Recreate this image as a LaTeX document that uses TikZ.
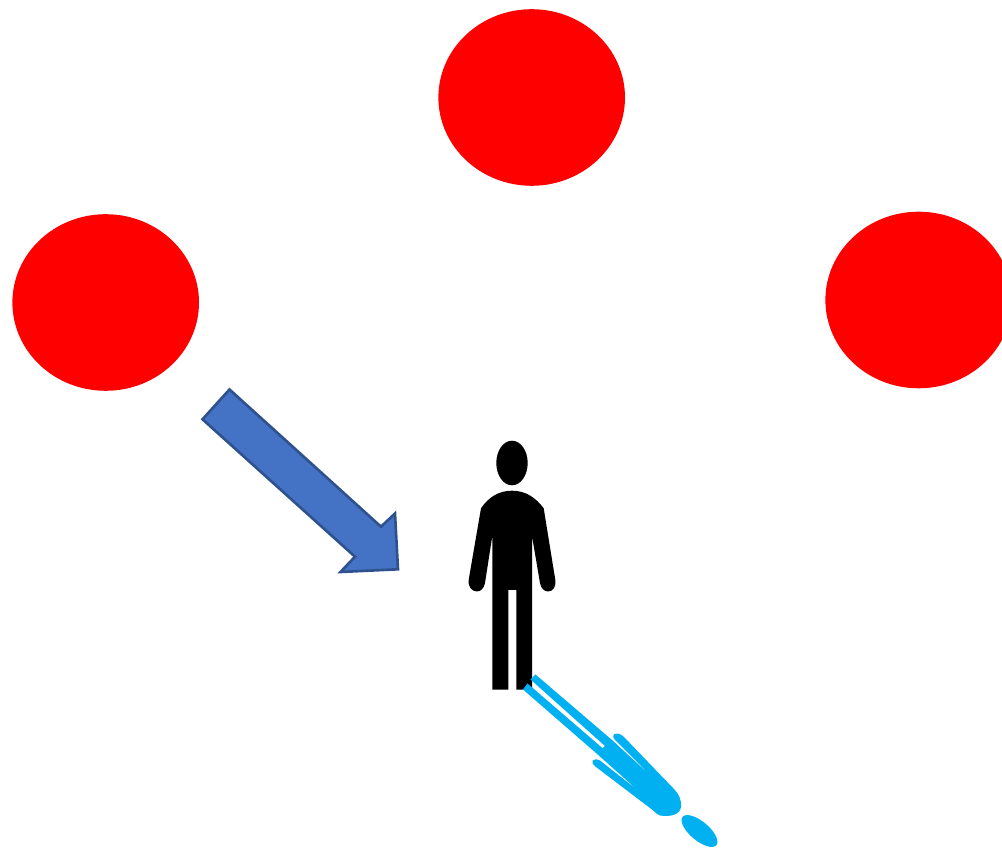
\documentclass[tikz,border=0pt]{standalone}
\usepackage{tikz}
\usetikzlibrary{shapes.geometric}

\definecolor{arrowblue}{RGB}{68,114,196}
\definecolor{arrowedge}{RGB}{47,82,143}
\definecolor{shadowblue}{RGB}{0,176,240}

\tikzset{
	lamp/.style={ellipse,fill=red,minimum width=1.865cm,minimum height=1.765cm,inner sep=0pt},
}

\begin{document}
\begin{tikzpicture}[x=0.01cm,y=-0.01cm]
			\useasboundingbox (0,0) rectangle (1002,849);
			\node[lamp] (lampleft) at (105.7,302.5) {};
			\node[lamp] (lamptop) at (531.7,97.5) {};
			\node[lamp] (lampright) at (918.7,300) {};
			% arrow
			\draw[fill=arrowblue,draw=arrowedge,line width=0.75pt,line join=miter] (229.5,389.5) -- (202.5,419.3) -- (355,556.7) -- (340.5,572) -- (398,569.3) -- (395,513.5) -- (381,526.7) -- cycle;
			% person
			\fill (512,463) ellipse [x radius=15.7,y radius=22.3];
			\fill (512,490.7) .. controls (498,490.7) and (488,498) .. (481,508.3) -- (469,578)
				.. controls (467,587) and (472,591.5) .. (477,591.5) .. controls (481,591.5) and (484,588) .. (485,583)
				-- (492.3,536) -- (492.3,689.7) -- (508.3,689.7) -- (508.3,590) -- (516.3,590) -- (516.3,689.7) -- (532,689.7) -- (532,536)
				-- (540,583) .. controls (541,588) and (544,591.5) .. (548,591.5) .. controls (553,591.5) and (557,587) .. (555,578)
				-- (543.7,508.3) .. controls (536,498) and (526,490.7) .. (512,490.7) -- cycle;
			% shadow
			\fill[shadowblue] (535.5,674.5) -- (612,740) -- (650.7,775.7) -- (615,740)
				.. controls (610,734) and (616,731) .. (623,736) -- (673,788)
				.. controls (679,794) and (682,801) .. (681,807) .. controls (680,815) and (670,817) .. (660,815.5)
				.. controls (657,814.5) and (654,811) .. (651.7,809.3) -- (596,767)
				.. controls (589,762) and (593,757) .. (600,760.5) -- (638.3,790.7) -- (596,753)
				-- (523,689.5) -- (527.5,683.5) -- (602.7,748.3) -- (605,746) -- (530.5,679.5) -- cycle;
			\fill[shadowblue,rotate around={-40:(699.5,831)}] (699.5,831) ellipse [x radius=22,y radius=9.5];
		\end{tikzpicture}
\end{document}
